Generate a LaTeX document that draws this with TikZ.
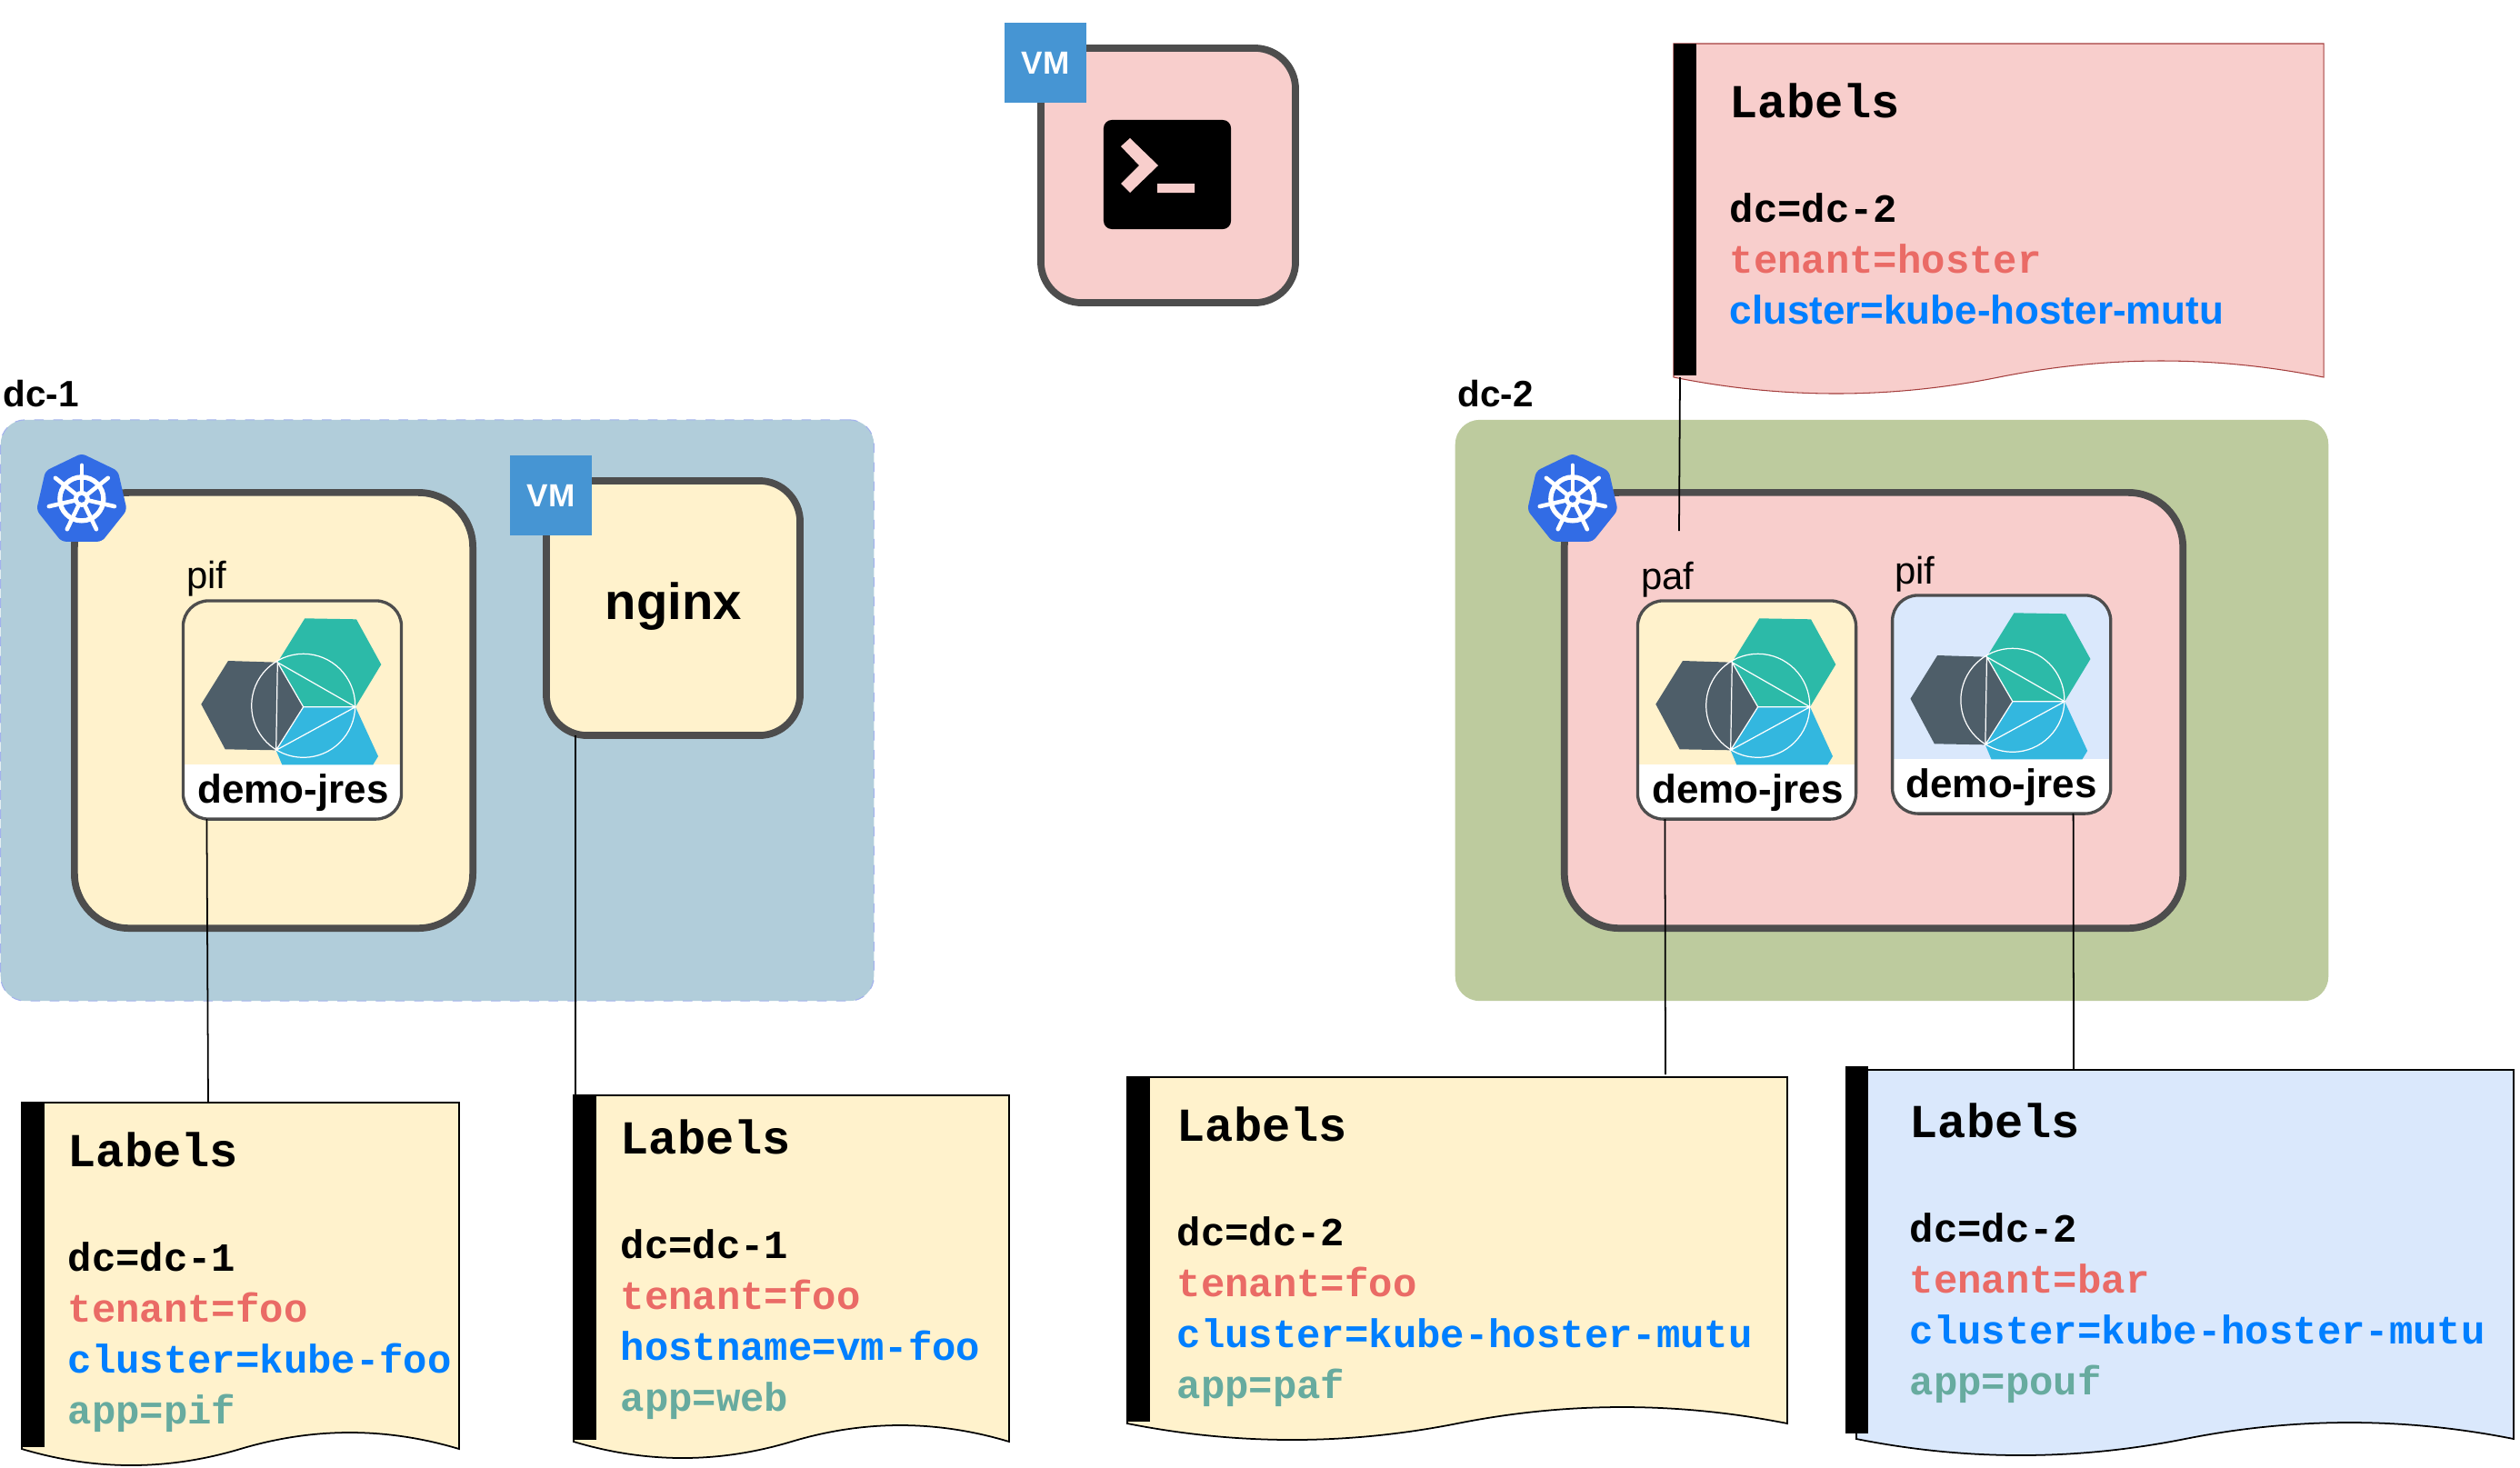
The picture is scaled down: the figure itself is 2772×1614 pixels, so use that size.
\documentclass[tikz,border=0pt]{standalone}
\usepackage{fontspec}
\setmainfont{Liberation Sans}
\setmonofont{Liberation Mono}
\usetikzlibrary{calc,positioning,shapes.geometric}
\definecolor{coal}{HTML}{4D4D4D}
\definecolor{cream}{HTML}{FFF2CC}
\definecolor{rose}{HTML}{F8CECC}
\definecolor{sky}{HTML}{DAE8FC}
\definecolor{dcblue}{HTML}{B1CDDA}
\definecolor{dcgreen}{HTML}{BDCB9E}
\definecolor{vmblue}{HTML}{4695D3}
\definecolor{kube}{HTML}{326CE5}
\definecolor{tenantred}{HTML}{EA6B66}
\definecolor{clusterblue}{HTML}{007FFF}
\definecolor{appgreen}{HTML}{67AB9F}
\tikzset{dc/.style={rounded corners=.27cm,minimum width=9.6cm,minimum height=6.39cm,outer sep=0},
 dcname/.style={font=\fontsize{11.5}{14}\selectfont\bfseries,inner sep=0,anchor=base west},
 hostbox/.style={draw=coal,line width=2.2pt,rounded corners=.6cm,outer sep=0},
 vmbadge/.style={fill=vmblue,text=white,font=\fontsize{10}{12}\selectfont\bfseries,minimum width=.9cm,minimum height=.88cm,inner sep=0},
 kubebadge/.style={regular polygon,regular polygon sides=7,fill=kube,minimum size=1.02cm,inner sep=0,rounded corners=.05cm},
 pod/.style={draw=coal,line width=.95pt,rounded corners=.28cm,minimum width=2.4cm,minimum height=2.4cm,outer sep=0,
  path picture={\fill[white,sharp corners] ([yshift=.6cm]path picture bounding box.south west) rectangle (path picture bounding box.south east);}},
 podname/.style={font=\fontsize{11.9}{14}\selectfont,inner sep=0},
 podcaption/.style={font=\fontsize{12.5}{15}\selectfont\bfseries,inner sep=0,anchor=base},
 docframe/.style={inner sep=0,outer sep=0,anchor=north west},
 paper/.style={draw=black,line width=.5pt},
 doctext/.style={inner sep=0,anchor=north west,align=left,font=\fontsize{12.5}{15.93}\selectfont\ttfamily\bfseries},
 wire/.style={line width=.5pt,draw=black},
 jreslogo/.pic={
  \fill[fill=jresgreen] (13.8,-100.7)--(70.5,-99.7)--(97.8,-50)--(69.5,-3.3)--(12.2,-3.3)--(-16.2,-52.3)--cycle;
  \fill[fill=jresslate] (-70.5,-54)--(-16.2,-52.3)--(12.2,-3.3)--(-17.8,44.3)--(-73.8,43.3)--(-100.2,-6.3)--cycle;
  \fill[fill=jrescyan] (12.2,-3.3)--(69.5,-3.3)--(94.5,51)--(88.8,60.3)--(-11.2,60.3)--(-17.8,44.3)--cycle;
  \draw[white,line width=.35pt] (12.2,-4.7) circle (57);
  \draw[white,line width=.35pt] (-17.8,44.3)--(-16.2,-52.3)--(12.2,-3.3)--(-17.8,44.3)--(69.5,-3.3)--(-16.2,-52.3) (12.2,-3.3)--(69.5,-3.3);
 },
 kubewheel/.pic={
  \draw[white,line width=1.5pt] (0,0) circle (24);
  \foreach \a in {0,...,6}
   \draw[white,line width=1.3pt,line cap=round] (0,0)--(-90+\a*51.43:37);
  \fill[white] (0,0) circle (9);
  \fill[kube] (0,0) circle (4);
 }}
\definecolor{jresgreen}{HTML}{2CBAA8}
\definecolor{jresslate}{HTML}{4E5E69}
\definecolor{jrescyan}{HTML}{33B7DF}
\newcommand{\labeldoc}[6][0,0]{%
 \node[docframe,minimum width=#4*.01cm,minimum height=#5*.01cm] (#2) at (#3) {};
 \draw[paper,#6] (#2.north west)--(#2.north east)--(#2.south east)
  .. controls ($(#2.south east)!.1667!(#2.south west)+(0,-24)$) and ($(#2.south east)!.3333!(#2.south west)+(0,-24)$) .. (#2.south)
  .. controls ($(#2.south east)!.6667!(#2.south west)+(0,24)$) and ($(#2.south east)!.8333!(#2.south west)+(0,24)$) .. (#2.south west)--cycle;
 \fill[black] ($(#2.north west)+(#1)$) rectangle ($(#2.south west)+(#1)+(25,-2)$);}
\newcommand{\labelshead}{{\fontsize{14.8}{15.93}\selectfont Labels}\\[16.8pt]}
\begin{document}
\begin{tikzpicture}[x=.01cm,y=-.01cm]
\useasboundingbox (0,0) rectangle (2772,1614);
% data centres
\node[dc,fill=dcblue,draw=dcblue!70!blue!70,dashed,line width=.3pt] (dcone) at (481,781.5) {};
\node[dc,fill=dcgreen] (dctwo) at (2081,781.5) {};
\node[dcname] (dconename) at (3,447) {dc-1};
\node[dcname] (dctwoname) at (1603,447) {dc-2};
% hosts
\node[hostbox,fill=rose,minimum width=2.8cm,minimum height=2.8cm,rounded corners=.45cm] (vmterm) at (1285,193) {};
\node[hostbox,fill=cream,minimum width=4.38cm,minimum height=4.79cm] (kubefoo) at (301,781.5) {};
\node[hostbox,fill=cream,minimum width=2.79cm,minimum height=2.8cm,rounded corners=.45cm] (vmnginx) at (740.5,669) {};
\node[font=\fontsize{16}{19}\selectfont\bfseries,inner sep=0] (nginx) at (741,667) {nginx};
\node[hostbox,fill=rose,minimum width=6.8cm,minimum height=4.79cm] (kubehoster) at (2061,781.5) {};
% badges
\node[vmbadge] (vmtermtag) at ($(vmterm.north west)+(5,16)$) {VM};
\node[vmbadge] (vmnginxtag) at ($(vmnginx.north west)+(5,16)$) {VM};
\node[kubebadge] (kubefootag) at ($(kubefoo.north west)+(8,8)$) {};
\node[kubebadge] (kubehostertag) at ($(kubehoster.north west)+(9,8)$) {};
\pic at ($(kubefootag.center)+(0,-1)$) {kubewheel};
\pic at ($(kubehostertag.center)+(0,-1)$) {kubewheel};
% terminal
\node[fill=black,minimum width=1.4cm,minimum height=1.2cm,rounded corners=.09cm,inner sep=0] (term) at (1284,192) {};
\fill[rose,shift={(term.center)}] (-51,-31)--(-41,-40)--(-10,-10)--(-41,20)--(-51,10)--(-31,-10)--cycle (-11,10) rectangle (30,20);
% pods
\node[pod,fill=cream] (podpif) at (321.5,781) {};
\node[pod,fill=cream] (podpaf) at (1921.5,781) {};
\node[pod,fill=sky,right=.4cm of podpaf,yshift=.06cm] (podpouf) {};
\foreach \p in {podpif,podpaf,podpouf} \pic at (\p) {jreslogo};
\node[podcaption] (jrespif) at ($(podpif.south)+(1,-18)$) {demo-jres};
\node[podcaption] (jrespaf) at ($(podpaf.south)+(1,-18)$) {demo-jres};
\node[podcaption] (jrespouf) at ($(podpouf.south)+(0,-18)$) {demo-jres};
\node[podname,above right=.04cm and .03cm of podpif.north west] (namepif) {pif};
\node[podname,above right=.03cm and .03cm of podpaf.north west] (namepaf) {paf};
\node[podname,above right=.03cm and .02cm of podpouf.north west] (namepouf) {pif};
% label sheets
\labeldoc{docpif}{24,1213}{481}{381}{fill=cream}
\labeldoc{docweb}{631,1205}{479}{381}{fill=cream}
\labeldoc{docpaf}{1240,1185}{726}{381}{fill=cream}
\labeldoc[-12,-4]{docpouf}{2042,1177}{723}{406}{fill=sky}
\labeldoc{dochoster}{1841,48}{715}{367}{fill=rose,draw=red!50!black!70!rose,line width=.3pt}
\node[doctext] (textpif) at ($(docpif.north west)+(50,32)$) {\labelshead dc=dc-1\\\textcolor{tenantred}{tenant=foo}\\\textcolor{clusterblue}{cluster=kube-foo}\\\textcolor{appgreen}{app=pif}};
\node[doctext] (textweb) at ($(docweb.north west)+(51,26)$) {\labelshead dc=dc-1\\\textcolor{tenantred}{tenant=foo}\\\textcolor{clusterblue}{hostname=vm-foo}\\\textcolor{appgreen}{app=web}};
\node[doctext] (textpaf) at ($(docpaf.north west)+(54,32)$) {\labelshead dc=dc-2\\\textcolor{tenantred}{tenant=foo}\\\textcolor{clusterblue}{cluster=kube-hoster-mutu}\\\textcolor{appgreen}{app=paf}};
\node[doctext] (textpouf) at ($(docpouf.north west)+(58,36)$) {\labelshead dc=dc-2\\\textcolor{tenantred}{tenant=bar}\\\textcolor{clusterblue}{cluster=kube-hoster-mutu}\\\textcolor{appgreen}{app=pouf}};
\node[doctext] (texthoster) at ($(dochoster.north west)+(61,43)$) {\labelshead dc=dc-2\\\textcolor{tenantred}{tenant=hoster}\\\textcolor{clusterblue}{\rmfamily cluster=kube-hoster-mutu}};
% wires
\coordinate (hosterend) at ($(dochoster.south west)+(6,169)$);
\draw[wire] ($(podpif.south west)+(26,0)$)--($(docpif.north west)+(205,0)$);
\draw[wire] ($(vmnginx.south west)+(32,0)$)--($(docweb.north west)+(2,0)$);
\draw[wire] ($(podpaf.south west)+(30,0)$)--($(docpaf.north west)+(592,-3)$);
\draw[wire] ($(podpouf.south west)+(199,0)$)--($(docpouf.north west)+(239,0)$);
\draw[wire] ($(dochoster.south west)+(7,0)$)--(hosterend);
\end{tikzpicture}
\end{document}
